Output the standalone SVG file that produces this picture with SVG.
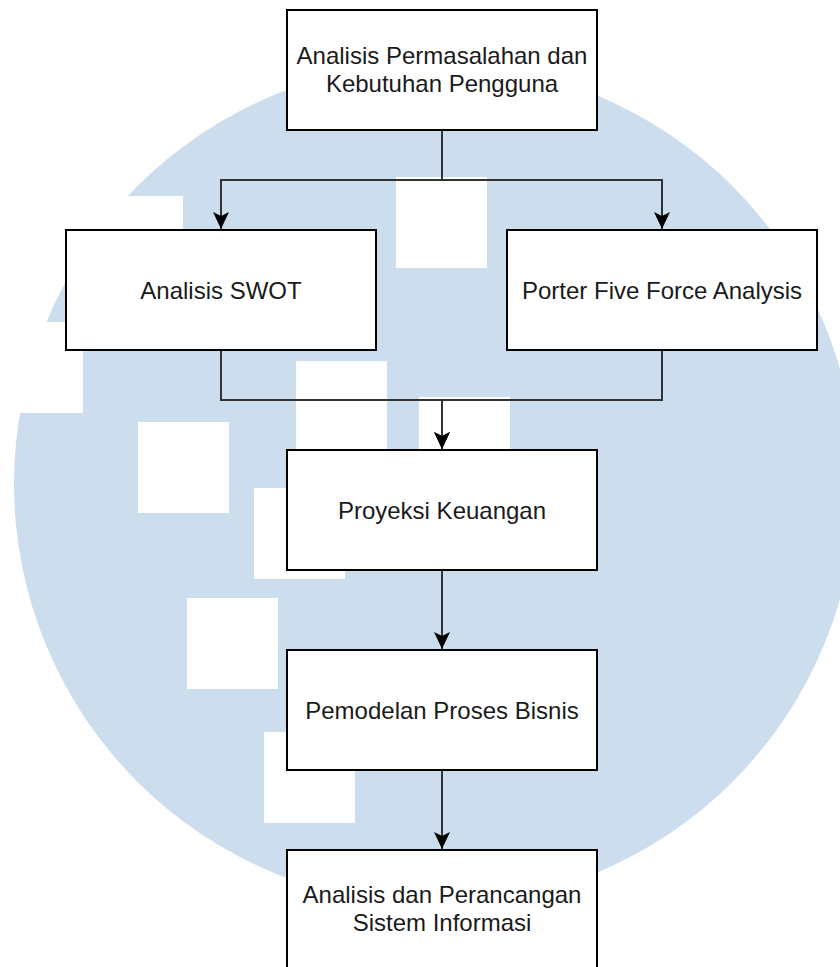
<svg xmlns="http://www.w3.org/2000/svg" width="840" height="967" viewBox="0 0 840 967">
<defs>
<style>
.bg{fill:#ffffff}
.wm{fill:#ccdded}
.sq{fill:#ffffff}
.box{fill:#ffffff;stroke:#000000;stroke-width:2}
.lbl{font-family:"Liberation Sans",Arial,sans-serif;font-size:24px;fill:#1a1a1a;text-anchor:middle}
.edge{fill:none;stroke:#333333;stroke-width:2}
</style>
<marker id="arr" markerWidth="18" markerHeight="16" refX="17" refY="8" orient="auto" markerUnits="userSpaceOnUse" viewBox="0 0 18 16">
<path d="M0,0 L4,8 L0,16 L17,8 Z" fill="#000000"/>
</marker>
</defs>
<rect class="bg" x="0" y="0" width="840" height="967"/>
<g id="watermark">
<circle class="wm" cx="435" cy="484" r="421"/>
<rect class="sq" x="92" y="196" width="91" height="91"/>
<rect class="sq" x="-8" y="322" width="91" height="91"/>
<rect class="sq" x="396" y="177" width="91" height="91"/>
<rect class="sq" x="296" y="361" width="91" height="91"/>
<rect class="sq" x="419" y="397" width="91" height="91"/>
<rect class="sq" x="138" y="422" width="91" height="91"/>
<rect class="sq" x="254" y="488" width="91" height="91"/>
<rect class="sq" x="187" y="598" width="91" height="91"/>
<rect class="sq" x="264" y="732" width="91" height="91"/>
</g>
<g id="connectors">
<path class="edge" d="M442,130 V180 H221 V229" marker-end="url(#arr)"/>
<path class="edge" d="M442,130 V180 H662 V229" marker-end="url(#arr)"/>
<path class="edge" d="M221,350 V400 H442 V449" marker-end="url(#arr)"/>
<path class="edge" d="M662,350 V400 H442 V449" marker-end="url(#arr)"/>
<path class="edge" d="M442,570 V649" marker-end="url(#arr)"/>
<path class="edge" d="M442,770 V849" marker-end="url(#arr)"/>
</g>
<g id="node-analisis-permasalahan">
<rect class="box" x="287" y="10" width="310" height="120"/>
<text class="lbl" x="442" y="64">Analisis Permasalahan dan</text>
<text class="lbl" x="442" y="92">Kebutuhan Pengguna</text>
</g>
<g id="node-swot">
<rect class="box" x="66" y="230" width="310" height="120"/>
<text class="lbl" x="221" y="299">Analisis SWOT</text>
</g>
<g id="node-porter">
<rect class="box" x="507" y="230" width="310" height="120"/>
<text class="lbl" x="662" y="299">Porter Five Force Analysis</text>
</g>
<g id="node-proyeksi">
<rect class="box" x="287" y="450" width="310" height="120"/>
<text class="lbl" x="442" y="519">Proyeksi Keuangan</text>
</g>
<g id="node-pemodelan">
<rect class="box" x="287" y="650" width="310" height="120"/>
<text class="lbl" x="442" y="719">Pemodelan Proses Bisnis</text>
</g>
<g id="node-perancangan">
<rect class="box" x="287" y="850" width="310" height="130"/>
<text class="lbl" x="442" y="903">Analisis dan Perancangan</text>
<text class="lbl" x="442" y="931">Sistem Informasi</text>
</g>
</svg>
